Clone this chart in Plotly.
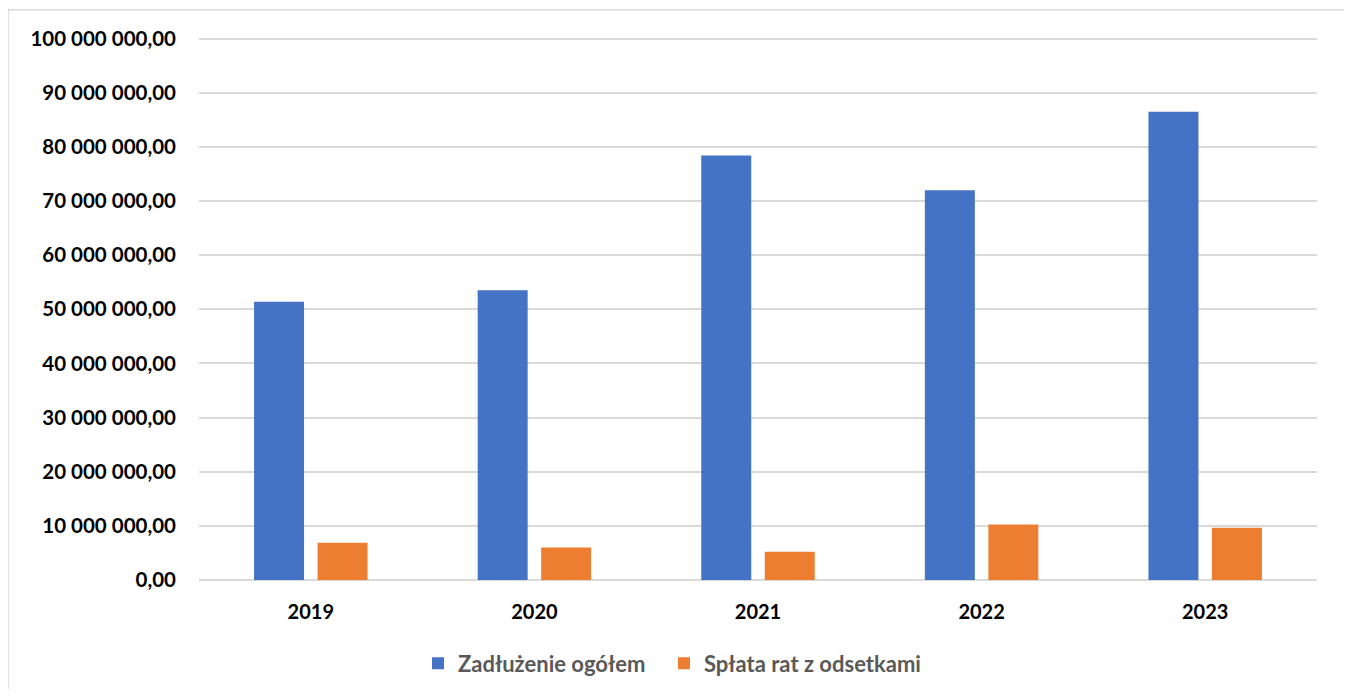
import plotly.graph_objects as go

years = ["2019", "2020", "2021", "2022", "2023"]
zadluzenie = [51_400_000, 53_500_000, 78_400_000, 72_000_000, 86_500_000]
splata = [6_900_000, 6_000_000, 5_200_000, 10_250_000, 9_650_000]
tick_vals = [i * 10_000_000 for i in range(11)]
tick_text = ["0,00"] + [f"{v // 1_000_000} 000 000,00" for v in tick_vals[1:]]

FONT = "Lato"
OFF = 8  # browser body margin

fig = go.Figure()
fig.add_trace(go.Bar(name="Zadłużenie ogółem", x=years, y=zadluzenie, legend="legend",
                     marker=dict(color="#4472C4", line=dict(width=0))))
fig.add_trace(go.Bar(name="Spłata rat z odsetkami", x=years, y=splata, legend="legend2",
                     marker=dict(color="#ED7D31", line=dict(width=0))))

W, H = 1336, 681
YMAX = 100_300_000
pxper = (580.5 - 39) / 100_000_000
top_px = 580.5 - YMAX * pxper
L = 199 - OFF
T = top_px - OFF
R = W - (1317 - OFF)
B = H - (580.5 - OFF)
pw, ph = W - L - R, H - T - B

def px(x):
    return (x - OFF - L) / pw

def py(y):
    return (H - B - (y - OFF)) / ph

legend_style = dict(orientation="h", yanchor="middle", y=py(664), xanchor="left",
                    font=dict(family=FONT, size=22, color="#595959", weight="bold"),
                    itemwidth=30, bgcolor="rgba(0,0,0,0)")

fig.update_layout(
    width=W, height=H,
    margin=dict(l=L, r=R, t=T, b=B, autoexpand=False),
    paper_bgcolor="white", plot_bgcolor="white",
    barmode="group", bargap=0.432, bargroupgap=0.213,
    showlegend=True,
    legend=dict(x=px(418), **legend_style),
    legend2=dict(x=px(664), **legend_style),
    font=dict(family=FONT),
    shapes=[dict(type="rect", xref="paper", yref="paper",
                 x0=px(8), x1=px(1346), y0=py(720), y1=py(10),
                 line=dict(color="#D9D9D9", width=1.5), fillcolor="rgba(0,0,0,0)", layer="below")],
)
fig.update_xaxes(showgrid=False, showline=False, ticks="", zeroline=False,
                 tickfont=dict(family=FONT, size=20, color="black", weight="bold"),
                 ticklabelstandoff=18)
fig.update_yaxes(range=[0, YMAX], tickvals=tick_vals, ticktext=tick_text,
                 showgrid=True, gridcolor="#D9D9D9", gridwidth=1.5,
                 zeroline=True, zerolinecolor="#D9D9D9", zerolinewidth=1.5,
                 showline=False, ticks="",
                 tickfont=dict(family=FONT, size=20.5, color="black", weight="bold"),
                 ticklabelstandoff=22)

fig.write_html("out.html")
